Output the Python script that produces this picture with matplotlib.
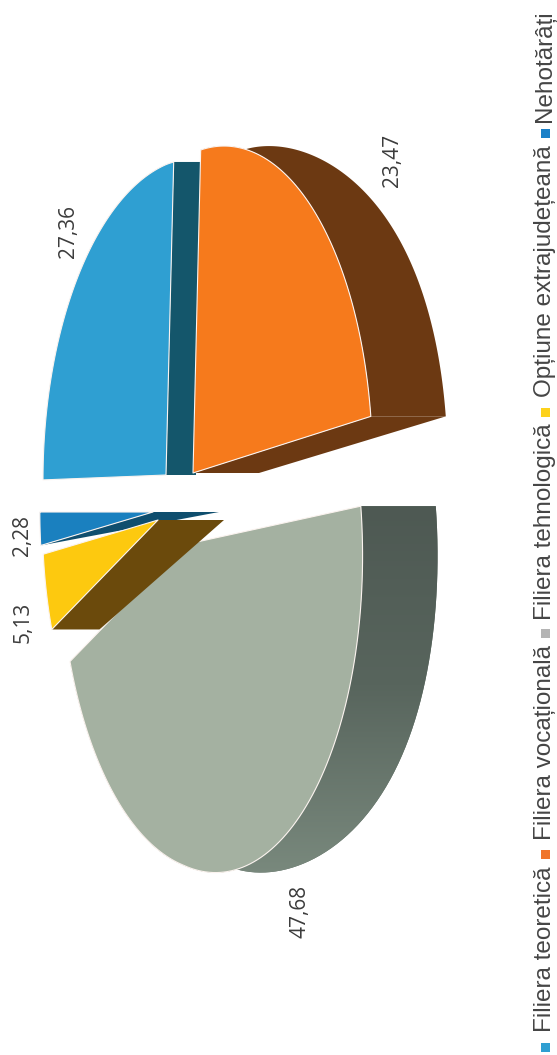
import numpy as np
import matplotlib
matplotlib.use("Agg")
import matplotlib.pyplot as plt
from matplotlib.colors import LinearSegmentedColormap
from matplotlib.patches import Polygon, Rectangle

categories = ["Filiera teoretică", "Filiera vocațională", "Filiera tehnologică",
              "Opțiune extrajudețeană", "Nehotărâți"]
values = [27.36, 23.47, 47.68, 5.13, 2.28]
value_labels = ["27,36", "23,47", "47,68", "5,13", "2,28"]

face_colors = ["#2f9fd2", "#f67a1c", "#a4b1a1", "#fdc90f", "#1a80bf"]
side_colors = ["#14566b", "#6c3912", "#5f6d64", "#6b4a0c", "#0f4e6e"]
marker_colors = ["#2f9fd2", "#f0752a", "#b4b4b4", "#fdd21c", "#1a80c8"]

# exploded centre of each slice on the page, its size and its small tilt
apex = [(166, 475), (193, 473), (183, 545), (158, 520), (153, 512)]
scale_narrow = [1, 1, 1, 0.94, 0.92]
scale_wide = [0.97, 1, 1, 0.94, 0.92]
tilt_far = [-0.04, 0, 0, 0, 0]
tilt_near = [0, -0.04, 0.06, 0, 0]

# the pie was printed turned by a quarter, depth runs towards +x
R_WIDE = 320
R_NARROW = 146
PERSP = 0.187


def project(i, theta):
    # theta clockwise from 12 o'clock on the unturned pie
    v = -np.cos(theta)
    u = np.sin(theta)
    w = 1 - PERSP * v
    dx = scale_narrow[i] * R_NARROW * v / w
    dy = -scale_wide[i] * R_WIDE * u / w
    dy = dy + np.where(dx > 0, tilt_near[i], tilt_far[i]) * dx
    return np.column_stack([apex[i][0] + dx, apex[i][1] + dy])


def depth(theta):
    base = np.interp(-np.cos(theta), [-1, 0, 1], [46, 70, 75])
    return base * (1 - 0.4 * np.sin(theta) ** 4)


edges = np.concatenate([[0], np.cumsum(values)]) / np.sum(values) * 2 * np.pi

fig = plt.figure(figsize=(5.57, 10.55), dpi=100)
ax = fig.add_axes([0, 0, 1, 1])
ax.set_xlim(0, 557)
ax.set_ylim(1055, 0)
ax.axis("off")

# painting order: small blue, blue, orange, grey, yellow
i_order = {4: 0, 0: 1, 1: 2, 2: 3, 3: 4}


def draw_side(i, theta, apex_depth=66, rim_depth=None):
    c = np.array(apex[i], dtype=float)
    rim = project(i, np.array([theta]))[0]
    d_rim = depth(theta) if rim_depth is None else rim_depth
    pts = [c, c + [apex_depth, 0], rim + [d_rim, 0], rim]
    ax.add_patch(Polygon(pts, closed=True, fc=side_colors[i], ec="none", zorder=2 + i_order[i]))


def draw_rim(i, t0, t1):
    t = np.linspace(t0, t1, 100)
    rim = project(i, t)
    outer = rim + np.column_stack([depth(t), np.zeros_like(t)])
    return ax.add_patch(Polygon(np.vstack([rim, outer[::-1]]), closed=True,
                                fc=side_colors[i], ec="none", zorder=2 + i_order[i]))


def draw_face(i):
    c = np.array(apex[i], dtype=float)
    t = np.linspace(edges[i], edges[i + 1], 120)
    rim = project(i, t)
    ax.add_patch(Polygon(np.vstack([c, rim]), closed=True, fc=face_colors[i],
                         ec="#fbf3ef", lw=0.8, joinstyle="round", zorder=2.5 + i_order[i]))


draw_side(4, edges[4], rim_depth=0)
draw_face(4)

draw_side(0, edges[1], apex_depth=30, rim_depth=30)
draw_face(0)

draw_rim(1, edges[1], edges[2])
draw_side(1, edges[2])
draw_face(1)

grey_side = draw_rim(2, edges[2], edges[3])
grey_cmap = LinearSegmentedColormap.from_list("grey_side", ["#4d5852", "#58655d", "#7a8a7e"])
grad = ax.imshow(np.linspace(0, 1, 256).reshape(-1, 1), cmap=grey_cmap, aspect="auto",
                 extent=(150, 450, 880, 490), zorder=grey_side.get_zorder())
grad.set_clip_path(grey_side)
ax.set_xlim(0, 557)
ax.set_ylim(1055, 0)
draw_face(2)

draw_side(3, edges[3])
draw_face(3)

# value labels
label_pos = [(68, 232), (392, 160), (300, 911), (23, 622), (23, 535)]
for txt, (x, y) in zip(value_labels, label_pos):
    ax.text(x, y, txt, rotation=90, ha="center", va="center", fontsize=15,
            family="Open Sans", color="#3c3c3c", zorder=10)

# legend, bottom to top along the right edge
legend_text_start = [1032, 840, 620, 397, 122]
legend_marker_y = [1047, 854, 633, 412, 133]
for name, col, y_txt, y_mark in zip(categories, marker_colors, legend_text_start, legend_marker_y):
    ax.add_patch(Rectangle((541, y_mark - 4), 9, 9, fc=col, ec="none", zorder=10))
    ax.text(545, y_txt, name, rotation=90, ha="center", va="bottom", fontsize=17.5,
            family="Liberation Sans", color="#454545", zorder=10)

fig.savefig("out.png", dpi=100)
